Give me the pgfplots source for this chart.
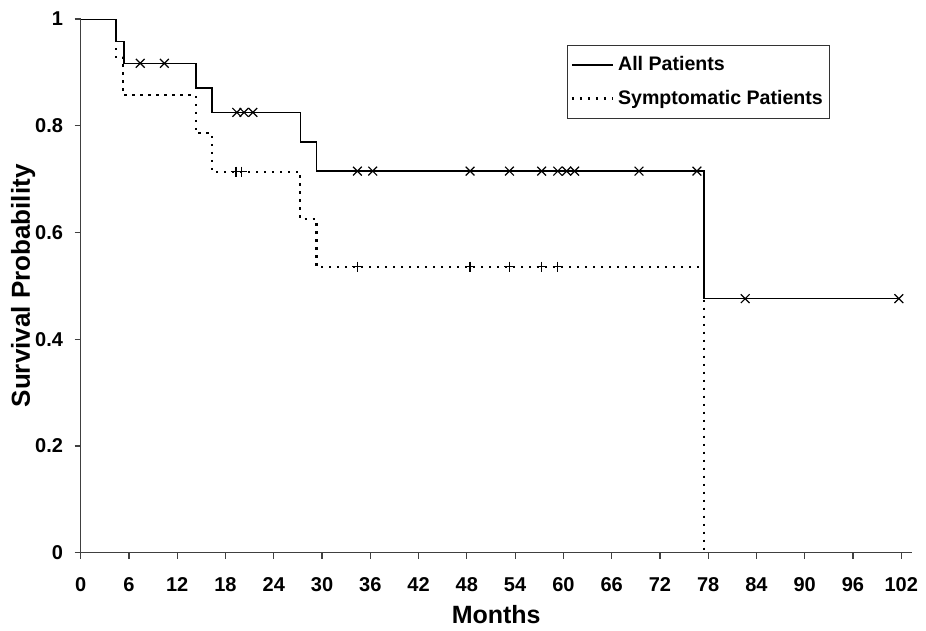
\documentclass[border=0pt]{standalone}
\usepackage{fontspec}
\setmainfont{Liberation Sans}
\usepackage{pgfplots}
\pgfplotsset{compat=1.18}

\begin{document}
\begin{tikzpicture}
  \begin{axis}[
      name=ax,
      width=415.5pt, height=266.85pt, scale only axis,
      xmin=0, xmax=103.3, ymin=0, ymax=1,
      axis lines*=left,
      axis line style={black!75, line width=0.6pt},
      every tick/.style={black!75, line width=0.6pt},
      tick align=outside, major tick length=3pt,
      xtick={0,6,12,18,24,30,36,42,48,54,60,66,72,78,84,90,96,102},
      xticklabels={0,6,12,18,24,30,36,42,48,54,60,66,72,78,84,90,96,102},
      ytick={0,0.2,0.4,0.6,0.8,1},
      yticklabels={0,0.2,0.4,0.6,0.8,1},
      /pgf/number format/assume math mode=true,
      ticklabel style={font=\bfseries\fontsize{10}{12}\selectfont},
      xticklabel style={anchor=north, text height=7.2pt, text depth=0pt, yshift=-5.5pt},
      yticklabel style={xshift=-2.3pt},
      xlabel={Months},
      ylabel={Survival Probability},
      xlabel style={font=\bfseries\fontsize{12.5}{14}\selectfont,
        at={(axis description cs:0.5,-0.1167)}, anchor=center},
      ylabel style={font=\bfseries\fontsize{13}{15}\selectfont,
        at={(axis description cs:-0.0694,0.5)}, anchor=center, rotate=0},
      legend style={at={(axis cs:60.5,0.951)}, anchor=north west,
        draw=black!80, line width=0.5pt, font=\bfseries\fontsize{9.8}{12}\selectfont,
        row sep=4pt, inner xsep=1.5pt, inner ysep=3.5pt},
      legend cell align=left,
      legend image code/.code={\draw[#1] (0pt,0pt) -- (20.5pt,0pt);},
    ]
    % all patients
    \addplot[black, line width=0.8pt] coordinates {
      (0,1) (4.4,1) (4.4,0.958) (5.4,0.958) (5.4,0.917) (14.3,0.917)
      (14.3,0.871) (16.3,0.871) (16.3,0.825) (27.3,0.825) (27.3,0.770)
      (29.3,0.770) (29.3,0.715) (77.5,0.715) (77.5,0.476) (101.7,0.476)};
    \addlegendentry{All Patients}
    % symptomatic patients
    \addplot[black, line width=1.1pt, dash pattern=on 1.1pt off 2.9pt] coordinates {
      (0,1) (4.35,1) (4.35,0.929) (5.3,0.929) (5.3,0.857) (14.3,0.857)
      (14.3,0.786) (16.3,0.786) (16.3,0.714) (27.3,0.714) (27.3,0.625)
      (29.3,0.625) (29.3,0.536) (77.5,0.536) (77.5,0)};
    \addlegendentry{Symptomatic Patients}
    % censored, all patients
    \addplot[only marks, mark=x, mark size=3.1pt, black, line width=0.6pt, forget plot] coordinates {
      (7.4,0.917) (10.4,0.917)
      (19.4,0.825) (20.3,0.825) (21.4,0.825)
      (34.4,0.715) (36.3,0.715) (48.4,0.715) (53.3,0.715) (57.3,0.715)
      (59.3,0.715) (60.4,0.715) (61.4,0.715) (69.4,0.715) (76.6,0.715)
      (82.6,0.476) (101.7,0.476)};
    % censored, symptomatic
    \addplot[only marks, mark=+, mark size=2.5pt, black, line width=0.6pt, forget plot] coordinates {
      (19.3,0.714) (20.0,0.714)
      (34.4,0.536) (48.4,0.536) (53.3,0.536) (57.3,0.536) (59.3,0.536)};
  \end{axis}
  \path (ax.south west) ++(-40.35pt,-36.15pt) rectangle ++(463pt,312.5pt);
\end{tikzpicture}
\end{document}
